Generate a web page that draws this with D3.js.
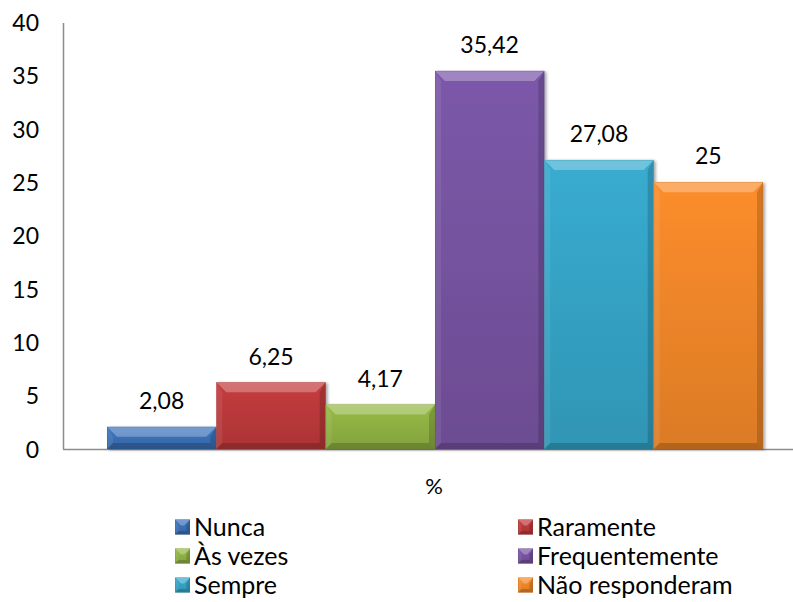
<!DOCTYPE html>
<html>
<head>
<meta charset="utf-8">
<script src="https://cdn.jsdelivr.net/npm/d3@7"></script>
<style>
  html, body { margin: 0; padding: 0; background: #fff; }
  svg { display: block; font-family: Lato, "Open Sans", sans-serif; }
</style>
</head>
<body>
<svg id="chart" width="793" height="602"></svg>
<script>
// Responses and their percentages
const categories = ["Nunca", "Raramente", "Às vezes", "Frequentemente", "Sempre", "Não responderam"];
const values = [2.08, 6.25, 4.17, 35.42, 27.08, 25];
const valueLabels = ["2,08", "6,25", "4,17", "35,42", "27,08", "25"];
const colors = ["#3b70b6", "#bb393a", "#8fb143", "#7653a0", "#35a3c5", "#ef8629"];
const yTicks = [0, 5, 10, 15, 20, 25, 30, 35, 40];
const axisTitle = "%";

const svg = d3.select("#chart");
const font = "Lato, 'Open Sans', sans-serif";

const y = d3.scaleLinear().domain([0, 40]).range([449, 22]);
const x = d3.scaleBand().domain(categories).range([107, 763]).paddingInner(0).paddingOuter(0);

const defs = svg.append("defs");
const shadow = defs.append("filter").attr("id", "shadow")
  .attr("x", "-10%").attr("y", "-10%").attr("width", "130%").attr("height", "130%");
shadow.append("feDropShadow").attr("dx", 2).attr("dy", 1).attr("stdDeviation", 1.5)
  .attr("flood-color", "#000").attr("flood-opacity", 0.35);

categories.forEach((c, i) => {
  const base = d3.color(colors[i]);
  const g = defs.append("linearGradient").attr("id", "grad" + i)
    .attr("x1", 0).attr("y1", 0).attr("x2", 0).attr("y2", 1);
  g.append("stop").attr("offset", "0%").attr("stop-color", base.brighter(0.15));
  g.append("stop").attr("offset", "100%").attr("stop-color", base.darker(0.25));
});

// Axis lines
const axisColor = "#8c8c8c";
svg.append("line").attr("x1", 63.5).attr("x2", 63.5).attr("y1", y(40) + 1).attr("y2", y(0))
  .attr("stroke", axisColor).attr("stroke-width", 1.5);
svg.append("line").attr("x1", 63).attr("x2", 793).attr("y1", y(0) + 0.5).attr("y2", y(0) + 0.5)
  .attr("stroke", axisColor).attr("stroke-width", 1.5);

// Y axis labels via d3 axis (line hidden)
const yAxis = svg.append("g").attr("transform", "translate(39,0)")
  .call(d3.axisLeft(y).tickValues(yTicks).tickSize(0).tickPadding(0).tickFormat(d3.format("d")));
yAxis.select(".domain").remove();
yAxis.selectAll("text").attr("font-family", font).attr("font-size", 23).attr("fill", "#000")
  .attr("dy", "0.36em");

// Bevelled bar shape
function drawBevel(g, x0, x1, yT, yB, b, i) {
  const w = x1 - x0, h = yB - yT;
  const bb = Math.min(b, h / 2, w / 2);
  g.append("rect").attr("x", x0).attr("y", yT).attr("width", w).attr("height", h)
    .attr("fill", "url(#grad" + i + ")");
  const poly = (pts, fill, op) => g.append("polygon")
    .attr("points", pts.map(p => p.join(",")).join(" "))
    .attr("fill", fill).attr("fill-opacity", op);
  // top facet
  poly([[x0, yT], [x1, yT], [x1 - bb, yT + bb], [x0 + bb, yT + bb]], "#fff", 0.28);
  // left facet
  poly([[x0, yT], [x0 + bb * 0.6, yT + bb], [x0 + bb * 0.6, yB - bb * 0.6], [x0, yB]], "#fff", 0.08);
  // right facet
  poly([[x1, yT], [x1, yB], [x1 - bb * 0.6, yB - bb * 0.6], [x1 - bb * 0.6, yT + bb]], "#000", 0.16);
  // bottom facet
  poly([[x0, yB], [x1, yB], [x1 - bb * 0.6, yB - bb * 0.6], [x0 + bb * 0.6, yB - bb * 0.6]], "#000", 0.18);
  g.append("rect").attr("x", x0 + 0.25).attr("y", yT + 0.25).attr("width", w - 0.5).attr("height", h - 0.5)
    .attr("fill", "none").attr("stroke", d3.color(colors[i]).darker(0.8)).attr("stroke-opacity", 0.45)
    .attr("stroke-width", 0.5);
}

const bars = svg.append("g").attr("filter", "url(#shadow)");
categories.forEach((c, i) => {
  const g = bars.append("g");
  drawBevel(g, x(c), x(c) + x.bandwidth(), y(values[i]), y(0), 10, i);
});

// Value labels
svg.append("g").selectAll("text").data(categories).join("text")
  .attr("x", d => x(d) + x.bandwidth() / 2)
  .attr("y", (d, i) => y(values[i]) - 26)
  .attr("dy", "0.36em")
  .attr("text-anchor", "middle")
  .attr("font-family", font).attr("font-size", 23).attr("fill", "#000")
  .text((d, i) => valueLabels[i]);

// Category axis title
svg.append("text").attr("x", 434).attr("y", 486).attr("dy", "0.36em")
  .attr("text-anchor", "middle").attr("font-family", font).attr("font-size", 22)
  .text(axisTitle);

// Legend: two columns, three rows
const legendCols = [175, 518];
const legendRows = [527, 556, 585];
const legend = svg.append("g");
categories.forEach((c, i) => {
  const lx = legendCols[i % 2], ly = legendRows[Math.floor(i / 2)];
  const g = legend.append("g");
  drawBevel(g, lx, lx + 15, ly - 7.5, ly + 7.5, 6, i);
  g.append("text").attr("x", lx + 19).attr("y", ly).attr("dy", "0.36em")
    .attr("font-family", font).attr("font-size", 25).attr("fill", "#000").text(c);
});
</script>
</body>
</html>
